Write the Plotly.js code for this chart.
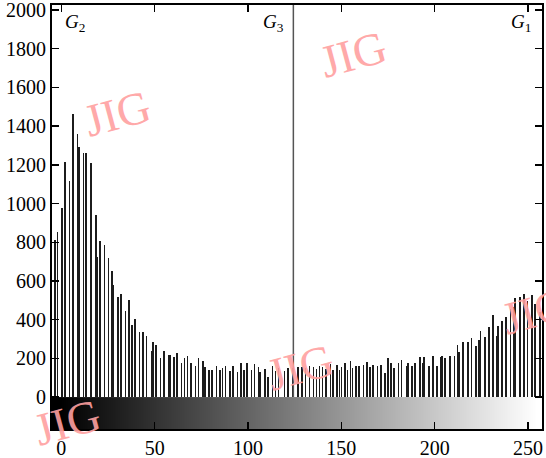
<!DOCTYPE html>
<html><head><meta charset="utf-8">
<script src="https://cdn.plot.ly/plotly-3.0.1.min.js"></script>
<style>html,body{margin:0;padding:0;background:#fff}#chart{width:546px;height:458px}</style>
</head><body><div id="chart"></div>
<script>
// Gray level of each histogram bar
const grayLevel = [-3.5,-2.1,0.4,2.0,4.4,6.1,8.6,9.4,11.8,13.2,15.8,18.4,19.0,20.7,23.1,25.2,27.3,28.0,30.5,32.0,
  34.4,36.2,37.8,39.4,41.8,43.6,45.7,48.3,49.2,50.7,53.1,54.9,57.4,58.2,60.5,62.0,64.4,66.0,67.6,69.4,
  71.8,73.4,75.8,76.8,79.0,80.6,83.2,85.0,86.4,87.9,90.5,92.1,94.4,96.1,97.7,99.3,101.8,103.5,105.6,106.4,
  109.2,110.8,113.1,114.8,116.4,119.5,121.4,124.1,126.8,128.8,130.8,132.9,135.1,136.7,138.3,139.9,141.9,144.2,145.7,147.5,
  149.1,150.1,151.8,153.3,154.9,156.0,157.8,159.6,161.8,163.6,165.3,166.8,169.3,171.1,173.4,175.0,176.6,178.2,180.7,182.3,
  185.0,185.8,187.7,189.6,192.1,193.6,194.3,197.0,199.2,201.1,203.2,204.1,205.7,208.2,210.7,212.3,213.0,215.3,218.0,219.8,
  222.1,223.9,224.6,226.9,229.2,231.1,233.2,234.1,235.9,238.2,240.7,242.5,243.0,245.7,248.0,249.8,252.3,253.7,256.4];
// Pixel counts
const pixelCount = [810,853,978,1217,1115,1461,1357,1290,1263,1263,1211,940,725,807,784,717,652,579,516,534,
  444,500,373,404,335,335,318,240,283,271,200,240,218,218,206,229,175,200,211,175,
  159,200,188,154,140,140,159,141,149,159,136,159,130,175,140,175,141,171,154,128,
  147,102,158,136,152,136,149,149,157,154,150,159,154,145,162,154,145,171,141,166,
  141,154,176,141,188,150,159,159,164,181,154,164,159,166,123,200,175,149,175,193,
  158,175,159,175,206,176,206,159,211,159,206,214,200,211,211,271,235,283,283,304,
  266,295,344,313,361,425,318,366,392,413,456,468,513,516,534,499,525,482,439];
const thresholdG3 = 124.3;
const tickValsX = [0,50,100,150,200,250];
const tickValsY = [0,200,400,600,800,1000,1200,1400,1600,1800,2000];
const regionLabels = ['<i>G</i><sub>2</sub>','<i>G</i><sub>3</sub>','<i>G</i><sub>1</sub>'];
const watermark = 'JIG';

// gray gradient strip (scale decoration)
const gx = [], gz = [];
for (let v = -5; v <= 257; v++) { gx.push(v); gz.push(Math.max(0, Math.min(255, v))); }

const serif = 'Liberation Serif, Times New Roman, serif';
const traces = [
  {type:'heatmap', x:gx, y:[-165,0], z:[gz], showscale:false, hoverinfo:'skip',
   colorscale:[[0,'#000000'],[1,'#ffffff']], zmin:0, zmax:255},
  {type:'bar', x:grayLevel, y:pixelCount, width:0.9,
   marker:{color:'#1c1c1c', line:{width:0}}}
];

const wm = (x,y) => ({xref:'paper', yref:'paper', x:x, y:y, xanchor:'center', yanchor:'middle',
  text:watermark, showarrow:false, textangle:-15,
  font:{family:serif, size:46, color:'#ffa0a0'}, opacity:0.9});
const gl = (x,i) => ({xref:'paper', yref:'paper', x:x, y:0.957, xanchor:'center', yanchor:'middle',
  text:regionLabels[i], showarrow:false, font:{family:serif, size:19}});

const layout = {
  width:546, height:458,
  margin:{l:52, r:4, t:5, b:29},
  paper_bgcolor:'#fff', plot_bgcolor:'#fff',
  showlegend:false, bargap:0,
  font:{family:serif, size:20, color:'#000'},
  xaxis:{range:[-5,257.5], tickvals:tickValsX, ticktext:tickValsX.map(String),
    ticks:'inside', ticklen:7, tickwidth:1.5, tickcolor:'#000',
    showline:true, linecolor:'#000', linewidth:2, mirror:'ticks',
    showgrid:false, zeroline:false, tickfont:{family:serif, size:20}},
  yaxis:{range:[-165,2026], tickvals:tickValsY, ticktext:tickValsY.map(String),
    ticks:'inside', ticklen:7, tickwidth:1.5, tickcolor:'#000', ticklabeloverflow:'allow',
    showline:true, linecolor:'#000', linewidth:2, mirror:'ticks',
    showgrid:false, zeroline:false, tickfont:{family:serif, size:20}},
  shapes:[{type:'line', xref:'x', yref:'y', x0:thresholdG3, x1:thresholdG3, y0:0, y1:2026,
    line:{color:'#555', width:1.5}}],
  annotations:[
    gl(0.047,0), gl(0.452,1), gl(0.957,2),
    wm(0.133,0.745), wm(0.614,0.884), wm(0.506,0.146), wm(0.03,0.016), wm(0.985,0.276)
  ]
};
Plotly.newPlot('chart', traces, layout, {displayModeBar:false, staticPlot:true});
</script>
</body></html>
